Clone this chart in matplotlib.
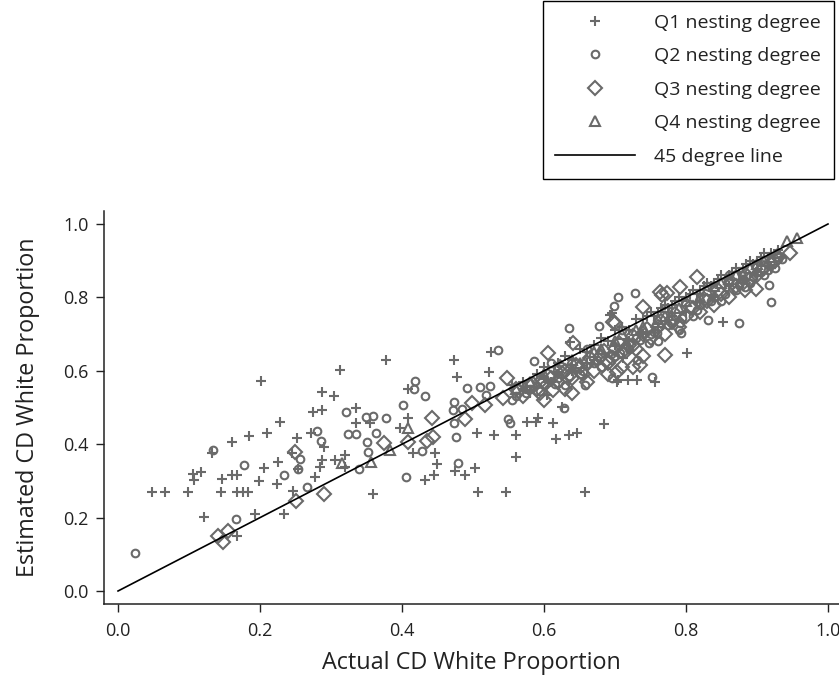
import matplotlib
matplotlib.use("Agg")
import matplotlib.pyplot as plt

# -----------------------------
# 1. Data
# -----------------------------
# Q1 nesting degree (+)
q1_x = [0.201, 0.287, 0.304, 0.275, 0.287, 0.335, 0.228, 0.335, 0.272, 0.252,
        0.290, 0.161, 0.185, 0.210, 0.132, 0.245, 0.225, 0.287, 0.306, 0.320,
        0.320, 0.206, 0.285, 0.106, 0.117, 0.107, 0.277, 0.146, 0.161, 0.167,
        0.199, 0.224, 0.048, 0.066, 0.099, 0.145, 0.168, 0.176, 0.183, 0.246,
        0.121, 0.193, 0.234, 0.168, 0.254,
        0.637, 0.377, 0.473, 0.525, 0.313, 0.523, 0.477, 0.408, 0.355, 0.408,
        0.397, 0.576, 0.589, 0.592, 0.613, 0.617, 0.635, 0.646, 0.415, 0.446,
        0.506, 0.530, 0.561, 0.561, 0.449, 0.445, 0.432, 0.475, 0.489, 0.503,
        0.359, 0.507, 0.546, 0.658, 0.604, 0.625, 0.685, 0.703, 0.756, 0.852,
        0.801, 0.693, 0.711, 0.704, 0.718, 0.731, 0.696,
        0.555, 0.570, 0.590, 0.600, 0.620, 0.630, 0.640, 0.650, 0.660, 0.670,
        0.680, 0.690, 0.700, 0.710, 0.720, 0.730, 0.740, 0.750, 0.760, 0.770,
        0.780, 0.790, 0.800, 0.810, 0.820, 0.830, 0.840, 0.850, 0.860, 0.870,
        0.880, 0.890, 0.900, 0.910, 0.920, 0.930, 0.620, 0.660, 0.700, 0.740,
        0.780, 0.820, 0.860, 0.900, 0.600, 0.570,
        0.745, 0.755, 0.765, 0.775, 0.785, 0.795, 0.805, 0.815, 0.825, 0.835,
        0.845, 0.855, 0.865, 0.875, 0.885, 0.895, 0.905, 0.915, 0.580, 0.610,
        0.640, 0.670, 0.720, 0.760, 0.800, 0.840, 0.880, 0.920]
q1_y = [0.572, 0.543, 0.532, 0.488, 0.493, 0.499, 0.460, 0.458, 0.431, 0.417,
        0.392, 0.406, 0.422, 0.431, 0.376, 0.376, 0.351, 0.357, 0.357, 0.371,
        0.338, 0.335, 0.338, 0.319, 0.324, 0.302, 0.311, 0.305, 0.316, 0.316,
        0.300, 0.292, 0.270, 0.270, 0.270, 0.270, 0.270, 0.270, 0.270, 0.272,
        0.202, 0.210, 0.210, 0.150, 0.332,
        0.678, 0.629, 0.629, 0.651, 0.602, 0.597, 0.583, 0.550, 0.458, 0.471,
        0.444, 0.460, 0.460, 0.471, 0.458, 0.414, 0.425, 0.431, 0.376, 0.376,
        0.431, 0.425, 0.425, 0.365, 0.346, 0.316, 0.302, 0.327, 0.316, 0.335,
        0.264, 0.270, 0.270, 0.270, 0.534, 0.501, 0.455, 0.569, 0.569, 0.733,
        0.649, 0.752, 0.635, 0.575, 0.575, 0.575, 0.757,
        0.560, 0.570, 0.590, 0.610, 0.620, 0.640, 0.630, 0.660, 0.650, 0.670,
        0.690, 0.680, 0.710, 0.720, 0.710, 0.740, 0.740, 0.760, 0.760, 0.780,
        0.780, 0.800, 0.800, 0.820, 0.820, 0.840, 0.840, 0.860, 0.860, 0.880,
        0.880, 0.900, 0.900, 0.920, 0.920, 0.930, 0.590, 0.620, 0.670, 0.700,
        0.750, 0.790, 0.830, 0.870, 0.580, 0.550,
        0.750, 0.750, 0.770, 0.770, 0.790, 0.790, 0.810, 0.810, 0.830, 0.830,
        0.850, 0.850, 0.870, 0.870, 0.890, 0.890, 0.910, 0.910, 0.540, 0.570,
        0.600, 0.630, 0.680, 0.720, 0.760, 0.800, 0.840, 0.880]

# Q2 nesting degree (o)
q2_x = [0.321, 0.280, 0.324, 0.335, 0.286, 0.134, 0.256, 0.177, 0.254, 0.234,
        0.266, 0.166, 0.024, 0.339,
        0.635, 0.535, 0.586, 0.418, 0.417, 0.432, 0.492, 0.510, 0.524, 0.518,
        0.401, 0.473, 0.472, 0.485, 0.349, 0.359, 0.377, 0.473, 0.549, 0.552,
        0.363, 0.351, 0.428, 0.476, 0.479, 0.406, 0.352,
        0.704, 0.728, 0.699, 0.677, 0.748, 0.759, 0.793, 0.792, 0.696, 0.731,
        0.707, 0.752, 0.831, 0.875, 0.920, 0.917, 0.925, 0.883, 0.628, 0.658,
        0.560, 0.580, 0.600, 0.620, 0.630, 0.650, 0.670, 0.680, 0.700, 0.720,
        0.730, 0.750, 0.760, 0.780, 0.790, 0.810, 0.820, 0.840, 0.850, 0.870,
        0.880, 0.890, 0.900, 0.910, 0.920, 0.930, 0.610, 0.660, 0.710, 0.770,
        0.830, 0.860,
        0.555, 0.575, 0.595, 0.615, 0.635, 0.655, 0.675, 0.695, 0.715, 0.735,
        0.755, 0.775, 0.795, 0.815, 0.835, 0.855, 0.875, 0.895, 0.915, 0.935]
q2_y = [0.488, 0.436, 0.428, 0.428, 0.409, 0.384, 0.360, 0.343, 0.332, 0.316,
        0.283, 0.196, 0.104, 0.332,
        0.717, 0.657, 0.627, 0.572, 0.550, 0.531, 0.553, 0.556, 0.559, 0.534,
        0.507, 0.515, 0.493, 0.496, 0.474, 0.477, 0.471, 0.458, 0.469, 0.458,
        0.431, 0.406, 0.381, 0.420, 0.349, 0.311, 0.379,
        0.801, 0.812, 0.777, 0.722, 0.676, 0.703, 0.703, 0.730, 0.580, 0.629,
        0.648, 0.583, 0.738, 0.730, 0.787, 0.834, 0.880, 0.828, 0.498, 0.560,
        0.530, 0.550, 0.560, 0.580, 0.560, 0.590, 0.620, 0.610, 0.640, 0.660,
        0.690, 0.700, 0.680, 0.730, 0.710, 0.750, 0.780, 0.800, 0.790, 0.820,
        0.850, 0.840, 0.870, 0.860, 0.900, 0.910, 0.620, 0.660, 0.710, 0.770,
        0.830, 0.860,
        0.520, 0.540, 0.545, 0.565, 0.585, 0.600, 0.630, 0.645, 0.670, 0.685,
        0.705, 0.725, 0.745, 0.765, 0.790, 0.810, 0.835, 0.855, 0.875, 0.905]

# Q3 nesting degree (diamond)
q3_x = [0.249, 0.290, 0.251, 0.141, 0.155, 0.148, 0.606, 0.548, 0.542, 0.499,
        0.517, 0.442, 0.489, 0.375, 0.408, 0.435, 0.444, 0.739, 0.766, 0.697,
        0.725, 0.735, 0.780, 0.770, 0.679, 0.689, 0.696, 0.703, 0.725, 0.641,
        0.623, 0.637, 0.613, 0.597, 0.815, 0.899, 0.946, 0.700, 0.792, 0.763,
        0.773, 0.883,
        0.560, 0.570, 0.580, 0.590, 0.600, 0.610, 0.620, 0.630, 0.640, 0.650,
        0.660, 0.670, 0.680, 0.690, 0.700, 0.710, 0.720, 0.730, 0.740, 0.750,
        0.760, 0.770, 0.780, 0.790, 0.800, 0.810, 0.820, 0.830, 0.840, 0.850,
        0.860, 0.870, 0.880, 0.890, 0.900, 0.910, 0.920, 0.930, 0.630, 0.660,
        0.690, 0.710, 0.740, 0.600, 0.640,
        0.565, 0.585, 0.605, 0.625, 0.645, 0.665, 0.685, 0.705, 0.725, 0.745,
        0.765, 0.785, 0.805, 0.825, 0.845, 0.865, 0.885, 0.905, 0.925, 0.595,
        0.655, 0.715]
q3_y = [0.379, 0.264, 0.245, 0.150, 0.163, 0.134, 0.649, 0.580, 0.526, 0.512,
        0.507, 0.471, 0.469, 0.403, 0.406, 0.409, 0.420, 0.774, 0.807, 0.733,
        0.670, 0.616, 0.733, 0.643, 0.638, 0.629, 0.635, 0.597, 0.610, 0.676,
        0.610, 0.589, 0.548, 0.575, 0.856, 0.823, 0.921, 0.730, 0.828, 0.815,
        0.812, 0.820,
        0.550, 0.530, 0.560, 0.550, 0.570, 0.580, 0.570, 0.600, 0.580, 0.610,
        0.620, 0.600, 0.640, 0.620, 0.660, 0.650, 0.670, 0.660, 0.700, 0.690,
        0.720, 0.700, 0.740, 0.720, 0.750, 0.770, 0.760, 0.790, 0.780, 0.810,
        0.800, 0.830, 0.840, 0.850, 0.860, 0.880, 0.890, 0.910, 0.550, 0.570,
        0.590, 0.610, 0.640, 0.520, 0.540,
        0.545, 0.565, 0.585, 0.595, 0.615, 0.635, 0.655, 0.675, 0.695, 0.715,
        0.735, 0.755, 0.775, 0.795, 0.820, 0.840, 0.860, 0.875, 0.900, 0.540,
        0.590, 0.655]

# Q4 nesting degree (triangle)
q4_x = [0.315, 0.408, 0.383, 0.356, 0.942, 0.956,
        0.560, 0.580, 0.620, 0.650, 0.680, 0.710, 0.740, 0.770, 0.800, 0.820,
        0.840, 0.860, 0.880, 0.900, 0.920, 0.930, 0.910,
        0.600, 0.640, 0.670, 0.700, 0.730, 0.760, 0.790, 0.830, 0.850, 0.870,
        0.890]
q4_y = [0.349, 0.444, 0.384, 0.351, 0.954, 0.962,
        0.550, 0.570, 0.610, 0.620, 0.660, 0.700, 0.720, 0.750, 0.790, 0.800,
        0.830, 0.850, 0.860, 0.890, 0.910, 0.920, 0.900,
        0.590, 0.630, 0.650, 0.680, 0.710, 0.740, 0.770, 0.820, 0.840, 0.860,
        0.880]

line_x = [0.0, 1.0]
line_y = [0.0, 1.0]

labels = ["Q1 nesting degree", "Q2 nesting degree", "Q3 nesting degree",
          "Q4 nesting degree", "45 degree line"]

GREY = "#6a6a6a"
DARK = "#222222"


# -----------------------------
# 2. Scatter plot
# -----------------------------
def plot_chart():
    plt.rcParams["font.family"] = ["Open Sans", "DejaVu Sans"]
    fig = plt.figure(figsize=(8.39, 6.75), dpi=100)
    ax = fig.add_axes([0.124, 0.1052, 0.876, 0.5822])

    common = dict(ls="none", color=GREY, mfc="none", mec=GREY, mew=1.5)
    h1, = ax.plot(q1_x, q1_y, marker="+", ms=7, **common)
    h2, = ax.plot(q2_x, q2_y, marker="o", ms=5.5, **common)
    h3, = ax.plot(q3_x, q3_y, marker="D", ms=7, **common)
    h4, = ax.plot(q4_x, q4_y, marker="^", ms=7, **common)
    h5, = ax.plot(line_x, line_y, color="black", lw=1.2)

    ax.set_xlim(-0.0197, 1.0155)
    ax.set_ylim(-0.0354, 1.0354)
    ax.set_xticks([0.0, 0.2, 0.4, 0.6, 0.8, 1.0])
    ax.set_yticks([0.0, 0.2, 0.4, 0.6, 0.8, 1.0])
    ax.xaxis.set_major_formatter(plt.FormatStrFormatter("%.1f"))
    ax.yaxis.set_major_formatter(plt.FormatStrFormatter("%.1f"))

    for side in ["top", "right"]:
        ax.spines[side].set_visible(False)
    for side in ["left", "bottom"]:
        ax.spines[side].set_linewidth(1.1)
        ax.spines[side].set_color(DARK)

    ax.tick_params(axis="both", direction="out", length=6, width=1.0,
                   color=DARK, labelsize=13, labelcolor=DARK)
    ax.tick_params(axis="x", pad=7)
    ax.tick_params(axis="y", pad=5)

    ax.set_xlabel("Actual CD White Proportion", fontsize=16.8, color=DARK,
                  labelpad=8)
    ax.set_ylabel("Estimated CD White Proportion", fontsize=16.8,
                  color=DARK, labelpad=17)

    leg = fig.legend([h1, h2, h3, h4, h5], labels,
                     loc="upper right", bbox_to_anchor=(834 / 839, 1 - 1 / 675),
                     fontsize=14, numpoints=1, handlelength=4.1,
                     handletextpad=1.0, labelspacing=0.8, borderpad=0.65,
                     borderaxespad=0, fancybox=False, framealpha=1,
                     edgecolor="black")
    leg.get_frame().set_linewidth(1.0)
    for t in leg.get_texts():
        t.set_color(DARK)

    fig.savefig("out.png", dpi=100)
    plt.close(fig)


def main():
    plot_chart()


if __name__ == "__main__":
    main()
